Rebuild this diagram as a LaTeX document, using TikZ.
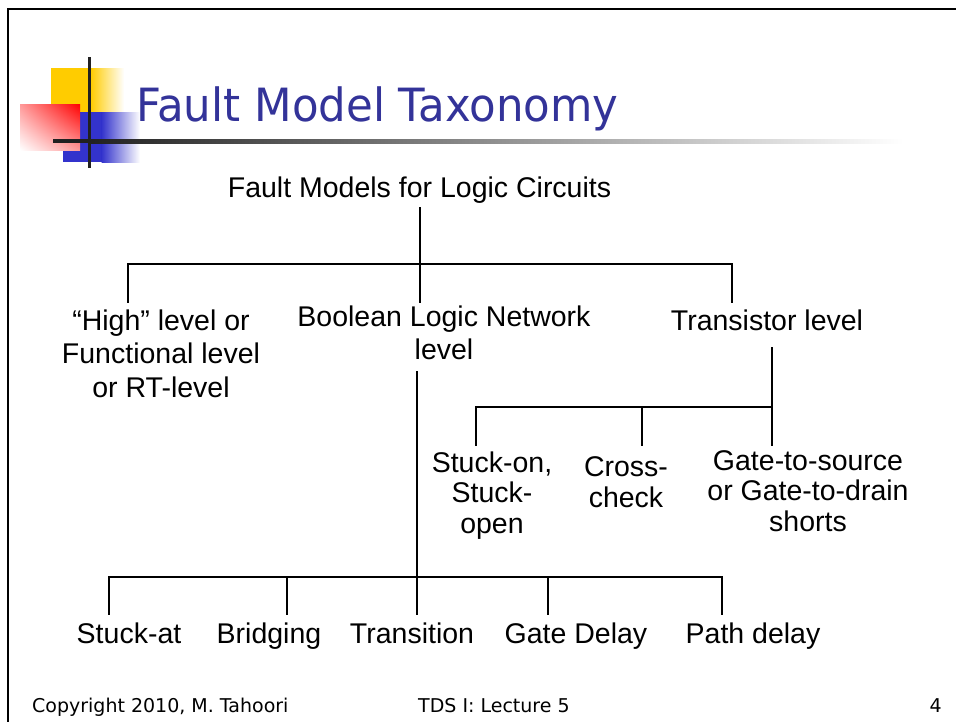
\documentclass[tikz,border=0pt]{standalone}
\usepackage{fontspec}
\usetikzlibrary{shadings}
\setmainfont{Liberation Sans}
\newfontfamily\titlefont[FakeStretch=0.95]{DejaVu Sans}
\newfontfamily\footfont{DejaVu Sans}
\definecolor{titleblue}{RGB}{51,51,153}
\definecolor{logoyellow}{RGB}{255,204,0}
\definecolor{logoblue}{RGB}{51,51,204}
\definecolor{logored}{RGB}{255,0,0}
\tikzset{
  lbl/.style={font=\fontsize{28.5}{33.5}\selectfont, align=center, inner sep=0pt},
  lblb/.style={font=\fontsize{28.5}{30.5}\selectfont, align=center, inner sep=0pt},
  ttl/.style={font=\titlefont\fontsize{45.8}{55}\selectfont, text=titleblue, inner sep=0pt},
  foot/.style={font=\footfont\fontsize{19}{22}\selectfont, inner sep=0pt},
  ln/.style={line width=1.6pt, line cap=rect},
}
\begin{document}
\begin{tikzpicture}[x=1pt,y=-1pt]
\useasboundingbox (0,0) rectangle (956,721);
\fill[white] (0,0) rectangle (956,721);
% frame
\draw[line width=2pt] (8.3,730) -- (8.3,9) -- (960,9);
% logo
\fill[logoyellow] (51,68) rectangle (91,112);
\shade[left color=logoyellow, right color=white] (90.5,68) rectangle (124,112);
\fill[logoblue] (63,112) rectangle (102,162);
\shade[left color=logoblue, right color=white] (101.5,112) rectangle (140,162);
\shade[upper right=logored, upper left=logored!40!white, lower right=logored!40!white, lower left=white] (20,104) rectangle (80,150);
\fill[black!87] (87.5,57) rectangle (91,168);
\fill[black!87] (53,139.3) rectangle (90,143.3);
\shade[left color=black!87, middle color=black!30, right color=white] (89.5,139.3) rectangle (903,143.3);
% title
\node[ttl, anchor=base west] (title) at (136,121) {Fault Model Taxonomy};
% nodes
\node[lbl, anchor=base] (root) at (419.5,197) {Fault Models for Logic Circuits};
\node[lbl, anchor=north] (high) at (161,309.5) {“High” level or\\Functional level\\or RT-level};
\node[lbl, anchor=north] (bool) at (444,305.5) {Boolean Logic Network\\level};
\node[lbl, anchor=base] (trans) at (767,330) {Transistor level};
\node[lblb, anchor=north] (son) at (492,451.5) {Stuck-on,\\Stuck-\\open};
\node[lblb, anchor=north] (cross) at (626,456.5) {Cross-\\check};
\node[lblb, anchor=north] (gate) at (808,450) {Gate-to-source\\or Gate-to-drain\\shorts};
\node[lbl, anchor=base] (sa) at (129,643) {Stuck-at};
\node[lbl, anchor=base] (br) at (269,643) {Bridging};
\node[lbl, anchor=base] (tr) at (412,643) {Transition};
\node[lbl, anchor=base] (gd) at (576,643) {Gate Delay};
\node[lbl, anchor=base] (pd) at (753,643) {Path delay};
% footer
\node[foot, anchor=base west] (copy) at (32,712) {Copyright 2010, M. Tahoori};
\node[foot, anchor=base west] (lect) at (418,712) {TDS I: Lecture 5};
\node[foot, anchor=base east] (pg) at (942,712) {4};
% connector coordinates
\coordinate (t0) at (420,208);
\coordinate (t1) at (420,264);
\coordinate (t2) at (420,302);
\coordinate (l0) at (128,264);
\coordinate (l1) at (128,302);
\coordinate (r0) at (732,264);
\coordinate (r1) at (732,302);
\coordinate (s0) at (772,348);
\coordinate (s1) at (772,407);
\coordinate (s2) at (476,407);
\coordinate (s3) at (476,445);
\coordinate (s4) at (642,407);
\coordinate (s5) at (642,445);
\coordinate (s6) at (772,445);
\coordinate (b0) at (417,372);
\coordinate (b1) at (417,577);
\coordinate (b2) at (417,614);
\coordinate (k1) at (109,577);
\coordinate (k1e) at (109,614);
\coordinate (k2) at (287,577);
\coordinate (k2e) at (287,614);
\coordinate (k4) at (548,577);
\coordinate (k4e) at (548,614);
\coordinate (k5) at (722,577);
\coordinate (k5e) at (722,614);
% connectors
\draw[ln] (t0) -- (t2);
\draw[ln] (l0) -- (r0);
\draw[ln] (l0) -- (l1);
\draw[ln] (r0) -- (r1);
\draw[ln] (s0) -- (s6);
\draw[ln] (s2) -- (s1);
\draw[ln] (s2) -- (s3);
\draw[ln] (s4) -- (s5);
\draw[ln] (b0) -- (b2);
\draw[ln] (k1) -- (k5);
\draw[ln] (k1) -- (k1e);
\draw[ln] (k2) -- (k2e);
\draw[ln] (k4) -- (k4e);
\draw[ln] (k5) -- (k5e);
\end{tikzpicture}
\end{document}
